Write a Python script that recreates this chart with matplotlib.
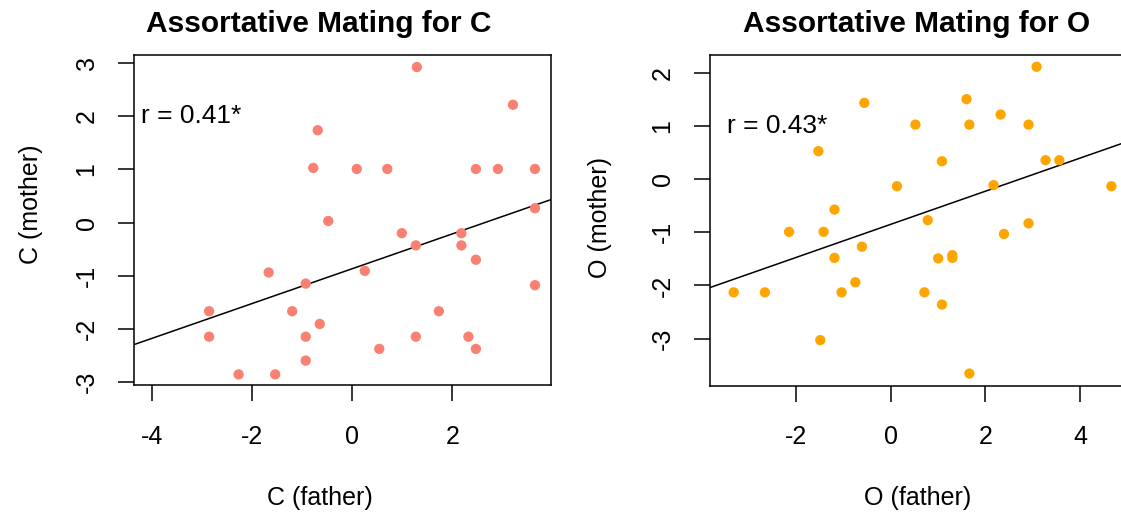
import matplotlib.pyplot as plt
import numpy as np

plt.rcParams['font.family'] = ['Liberation Sans', 'DejaVu Sans']

# C scores
c_father = [1.29, 3.21, -0.69, -0.78, 0.09, 0.70, 2.47, 2.91, 3.65, 3.65, -0.48,
            0.99, 1.27, 2.18, 2.18, 2.47, 0.25, -1.67, -0.93, 3.65, -2.86, -1.20,
            1.73, -0.65, -2.86, -0.93, 1.27, 2.32, 0.54, 2.47, -0.93, -2.27, -1.54]
c_mother = [2.93, 2.22, 1.74, 1.03, 1.01, 1.01, 1.01, 1.01, 1.01, 0.27, 0.03,
            -0.20, -0.43, -0.20, -0.43, -0.70, -0.91, -0.94, -1.15, -1.18, -1.67, -1.67,
            -1.67, -1.91, -2.15, -2.15, -2.15, -2.15, -2.38, -2.38, -2.60, -2.86, -2.86]
c_fit = (-0.869, 0.328)   # intercept, slope
c_r = 'r = 0.41*'

# O scores
o_father = [3.08, -0.56, 1.60, 2.32, 0.52, 1.66, 2.91, -1.53, 1.08, 3.27, 3.56,
            0.13, 2.17, 4.66, -1.19, 0.78, 2.91, -2.15, -1.42, 2.39, -0.61, -1.19,
            1.00, 1.30, 1.30, -0.75, -3.32, -2.66, -1.04, 0.71, 1.08, -1.49, 1.66]
o_mother = [2.12, 1.44, 1.51, 1.22, 1.03, 1.03, 1.03, 0.53, 0.34, 0.36, 0.36,
            -0.13, -0.11, -0.13, -0.57, -0.77, -0.83, -0.99, -0.99, -1.03, -1.27, -1.48,
            -1.49, -1.43, -1.48, -1.94, -2.13, -2.13, -2.13, -2.13, -2.36, -3.03, -3.66]
o_fit = (-0.848, 0.312)
o_r = 'r = 0.43*'

W, H = 1121, 514
fig = plt.figure(figsize=(W / 100, H / 100), dpi=100)


def panel(box, x, y, fit, rtext, rpos, color, xlim, ylim, xticks, yticks,
          title, xlab, ylab, title_x, xlab_x, ylab_x, ylab_y, ytick_x):
    l, t, r, b = box
    ax = fig.add_axes([l / W, 1 - b / H, (r - l) / W, (b - t) / H])
    ax.scatter(x, y, s=55, color=color, edgecolors='none', zorder=3)
    xs = np.array(xlim)
    ax.plot(xs, fit[0] + fit[1] * xs, color='black', lw=1.1, zorder=2)
    ax.text(rpos[0], rpos[1], rtext, fontsize=19, ha='left', va='center')
    ax.set_xlim(xlim)
    ax.set_ylim(ylim)
    ax.set_xticks(xticks)
    ax.set_yticks(yticks)
    ax.set_xticklabels([str(v) for v in xticks])
    ax.set_yticklabels([str(v) for v in yticks], rotation=90, va='center')
    ax.tick_params(direction='out', length=11.5, width=1.1, labelsize=18, pad=17)
    ax.tick_params(axis='y', pad=14)
    for s in ax.spines.values():
        s.set_linewidth(1.1)
    fig.text(title_x / W, 1 - 24 / H, title, fontsize=21.5, fontweight='bold',
             ha='center', va='center')
    fig.text(xlab_x / W, 1 - 498 / H, xlab, fontsize=18, ha='center', va='center')
    fig.text(ylab_x / W, 1 - ylab_y / H, ylab, fontsize=18, ha='center', va='center',
             rotation=90)
    return ax


panel((134, 55, 551, 385), c_father, c_mother, c_fit, c_r, (-4.22, 2.0), '#FA8072',
      (-4.36, 3.97), (-3.06, 3.157), [-4, -2, 0, 2], [-3, -2, -1, 0, 1, 2, 3],
      'Assortative Mating for C', 'C (father)', 'C (mother)', 319, 320, 31, 204, 88)
panel((710, 55, 1127, 385.7), o_father, o_mother, o_fit, o_r, (-3.46, 1.0), '#FFA500',
      (-3.82, 4.99), (-3.889, 2.342), [-2, 0, 2, 4], [-3, -2, -1, 0, 1, 2],
      'Assortative Mating for O', 'O (father)', 'O (mother)', 917, 918, 600, 218, 660)

fig.savefig('out.png', dpi=100)
